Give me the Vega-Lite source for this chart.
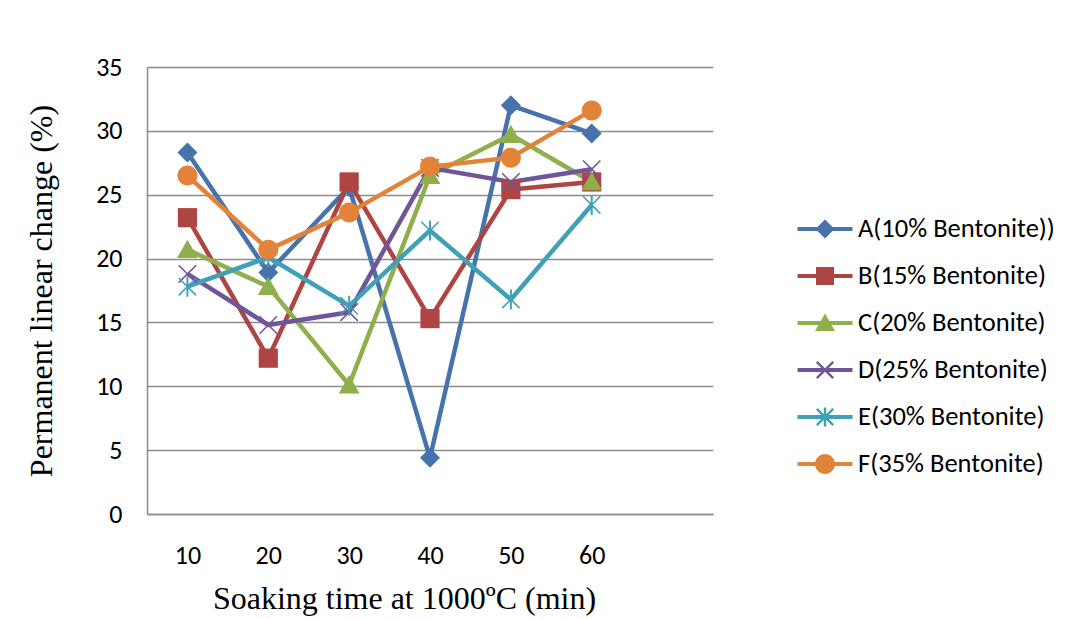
{
  "$schema": "https://vega.github.io/schema/vega-lite/v6.json",
  "autosize": "none",
  "width": 566,
  "height": 447,
  "padding": {"left": 147, "top": 67, "right": 361, "bottom": 105},
  "background": "white",
  "data": {
    "values": [
      {"series": "A(10% Bentonite))", "time": 10, "value": 28.3},
      {"series": "A(10% Bentonite))", "time": 20, "value": 18.9},
      {"series": "A(10% Bentonite))", "time": 30, "value": 25.6},
      {"series": "A(10% Bentonite))", "time": 40, "value": 4.4},
      {"series": "A(10% Bentonite))", "time": 50, "value": 32.0},
      {"series": "A(10% Bentonite))", "time": 60, "value": 29.8},
      {"series": "B(15% Bentonite)", "time": 10, "value": 23.2},
      {"series": "B(15% Bentonite)", "time": 20, "value": 12.2},
      {"series": "B(15% Bentonite)", "time": 30, "value": 26.0},
      {"series": "B(15% Bentonite)", "time": 40, "value": 15.3},
      {"series": "B(15% Bentonite)", "time": 50, "value": 25.4},
      {"series": "B(15% Bentonite)", "time": 60, "value": 26.0},
      {"series": "C(20% Bentonite)", "time": 10, "value": 20.7},
      {"series": "C(20% Bentonite)", "time": 20, "value": 17.8},
      {"series": "C(20% Bentonite)", "time": 30, "value": 10.1},
      {"series": "C(20% Bentonite)", "time": 40, "value": 26.5},
      {"series": "C(20% Bentonite)", "time": 50, "value": 29.7},
      {"series": "C(20% Bentonite)", "time": 60, "value": 26.0},
      {"series": "D(25% Bentonite)", "time": 10, "value": 18.8},
      {"series": "D(25% Bentonite)", "time": 20, "value": 14.8},
      {"series": "D(25% Bentonite)", "time": 30, "value": 15.8},
      {"series": "D(25% Bentonite)", "time": 40, "value": 27.1},
      {"series": "D(25% Bentonite)", "time": 50, "value": 26.0},
      {"series": "D(25% Bentonite)", "time": 60, "value": 27.0},
      {"series": "E(30% Bentonite)", "time": 10, "value": 17.8},
      {"series": "E(30% Bentonite)", "time": 20, "value": 20.1},
      {"series": "E(30% Bentonite)", "time": 30, "value": 16.3},
      {"series": "E(30% Bentonite)", "time": 40, "value": 22.2},
      {"series": "E(30% Bentonite)", "time": 50, "value": 16.8},
      {"series": "E(30% Bentonite)", "time": 60, "value": 24.2},
      {"series": "F(35% Bentonite)", "time": 10, "value": 26.5},
      {"series": "F(35% Bentonite)", "time": 20, "value": 20.7},
      {"series": "F(35% Bentonite)", "time": 30, "value": 23.6},
      {"series": "F(35% Bentonite)", "time": 40, "value": 27.2},
      {"series": "F(35% Bentonite)", "time": 50, "value": 27.9},
      {"series": "F(35% Bentonite)", "time": 60, "value": 31.6}
    ]
  },
  "encoding": {
    "x": {
      "field": "time", "type": "quantitative",
      "scale": {"domain": [5, 75], "nice": false, "zero": false},
      "axis": {
        "values": [10, 20, 30, 40, 50, 60],
        "grid": false, "ticks": false,
        "domainColor": "#8c8c8c", "domainWidth": 1.5,
        "labelFont": "Carlito, Lato, sans-serif", "labelFontSize": 26, "labelColor": "#000000", "labelPadding": 28,
        "title": "Soaking time at 1000ºC (min)",
        "titleFont": "Liberation Serif", "titleFontSize": 32, "titleFontWeight": "normal", "titleColor": "#000000",
        "titleX": 257, "titleY": 84, "titleBaseline": "middle", "titleAlign": "center"
      }
    },
    "y": {
      "field": "value", "type": "quantitative",
      "scale": {"domain": [0, 35], "nice": false},
      "axis": {
        "values": [0, 5, 10, 15, 20, 25, 30, 35],
        "grid": true, "gridColor": "#8c8c8c", "gridWidth": 1.5,
        "ticks": false,
        "domainColor": "#8c8c8c", "domainWidth": 1.5,
        "labelFont": "Carlito, Lato, sans-serif", "labelFontSize": 26, "labelColor": "#000000", "labelPadding": 25,
        "title": "Permanent linear change (%)",
        "titleFont": "Liberation Serif", "titleFontSize": 32, "titleFontWeight": "normal", "titleColor": "#000000",
        "titleX": -106, "titleY": 223.5, "titleBaseline": "middle", "titleAlign": "center", "titleAngle": -90
      }
    }
  },
  "layer": [
    {
      "mark": {"type": "line", "strokeWidth": 4.5, "strokeJoin": "round"},
      "encoding": {
        "color": {
          "field": "series", "type": "nominal",
          "scale": {
            "domain": ["A(10% Bentonite))", "B(15% Bentonite)", "C(20% Bentonite)", "D(25% Bentonite)", "E(30% Bentonite)", "F(35% Bentonite)"],
            "range": ["#4673AB", "#AE4543", "#8FAE4C", "#70559A", "#3FA0B8", "#E3833A"]
          },
          "legend": {
            "orient": "none", "legendX": 658, "legendY": 142,
            "title": null, "padding": 0,
            "symbolSize": 1600, "rowPadding": 13, "labelOffset": 13,
            "labelFont": "Carlito, Lato, sans-serif", "labelFontSize": 26.5, "labelColor": "#000000", "labelLimit": 300,
            "encode": {
              "symbols": {
                "update": {
                  "shape": {"signal": "datum.value === 'A(10% Bentonite))' ? 'M-1.375,-0.1H1.375V0.1H-1.375Z M0,-0.48L0.48,0L0,0.48L-0.48,0Z' : datum.value === 'B(15% Bentonite)' ? 'M-1.375,-0.1H1.375V0.1H-1.375Z M-0.45,-0.45H0.45V0.45H-0.45Z' : datum.value === 'C(20% Bentonite)' ? 'M-1.375,-0.1H1.375V0.1H-1.375Z M0,-0.48L0.5,0.4L-0.5,0.4Z' : datum.value === 'D(25% Bentonite)' ? 'M-1.375,-0.1H1.375V0.1H-1.375Z M-0.368,-0.452L0.452,0.368L0.368,0.452L-0.452,-0.368Z M0.368,-0.452L0.452,-0.368L-0.368,0.452L-0.452,0.368Z' : datum.value === 'E(30% Bentonite)' ? 'M-1.375,-0.1H1.375V0.1H-1.375Z M-0.368,-0.452L0.452,0.368L0.368,0.452L-0.452,-0.368Z M0.368,-0.452L0.452,-0.368L-0.368,0.452L-0.452,0.368Z M-0.06,-0.48H0.06V0.48H-0.06Z' : 'M-1.375,-0.1H1.375V0.1H-1.375Z M0.5,0A0.5,0.5,0,1,1,-0.5,0A0.5,0.5,0,1,1,0.5,0Z'"},
                  "fill": {"signal": "scale('color', datum.value)"},
                  "stroke": {"value": "transparent"},
                  "strokeWidth": {"value": 0},
                  "size": {"value": 1600},
                  "opacity": {"value": 1}
                }
              }
            }
          }
        }
      }
    },
    {
      "transform": [{"filter": "datum.series === 'A(10% Bentonite))'"}],
      "mark": {"type": "point", "filled": true, "size": 1600, "opacity": 1, "color": "#4673AB", "shape": "M0,-0.5L0.5,0L0,0.5L-0.5,0Z"}
    },
    {
      "transform": [{"filter": "datum.series === 'B(15% Bentonite)'"}],
      "mark": {"type": "point", "filled": true, "size": 1600, "opacity": 1, "color": "#AE4543", "shape": "M-0.48,-0.48H0.48V0.48H-0.48Z"}
    },
    {
      "transform": [{"filter": "datum.series === 'C(20% Bentonite)'"}],
      "mark": {"type": "point", "filled": true, "size": 1600, "opacity": 1, "color": "#8FAE4C", "shape": "M0,-0.5L0.52,0.42L-0.52,0.42Z"}
    },
    {
      "transform": [{"filter": "datum.series === 'D(25% Bentonite)'"}],
      "mark": {"type": "point", "filled": true, "size": 1600, "opacity": 1, "color": "#70559A", "shape": "M-0.408,-0.462L0.462,0.408L0.408,0.462L-0.462,-0.408Z M0.408,-0.462L0.462,-0.408L-0.408,0.462L-0.462,0.408Z"}
    },
    {
      "transform": [{"filter": "datum.series === 'E(30% Bentonite)'"}],
      "mark": {"type": "point", "filled": true, "size": 1600, "opacity": 1, "color": "#3FA0B8", "shape": "M-0.408,-0.462L0.462,0.408L0.408,0.462L-0.462,-0.408Z M0.408,-0.462L0.462,-0.408L-0.408,0.462L-0.462,0.408Z M-0.05,-0.5H0.05V0.5H-0.05Z"}
    },
    {
      "transform": [{"filter": "datum.series === 'F(35% Bentonite)'"}],
      "mark": {"type": "point", "filled": true, "size": 1600, "opacity": 1, "color": "#E3833A", "shape": "M0.5,0A0.5,0.5,0,1,1,-0.5,0A0.5,0.5,0,1,1,0.5,0Z"}
    }
  ],
  "config": {"view": {"stroke": null}}
}
